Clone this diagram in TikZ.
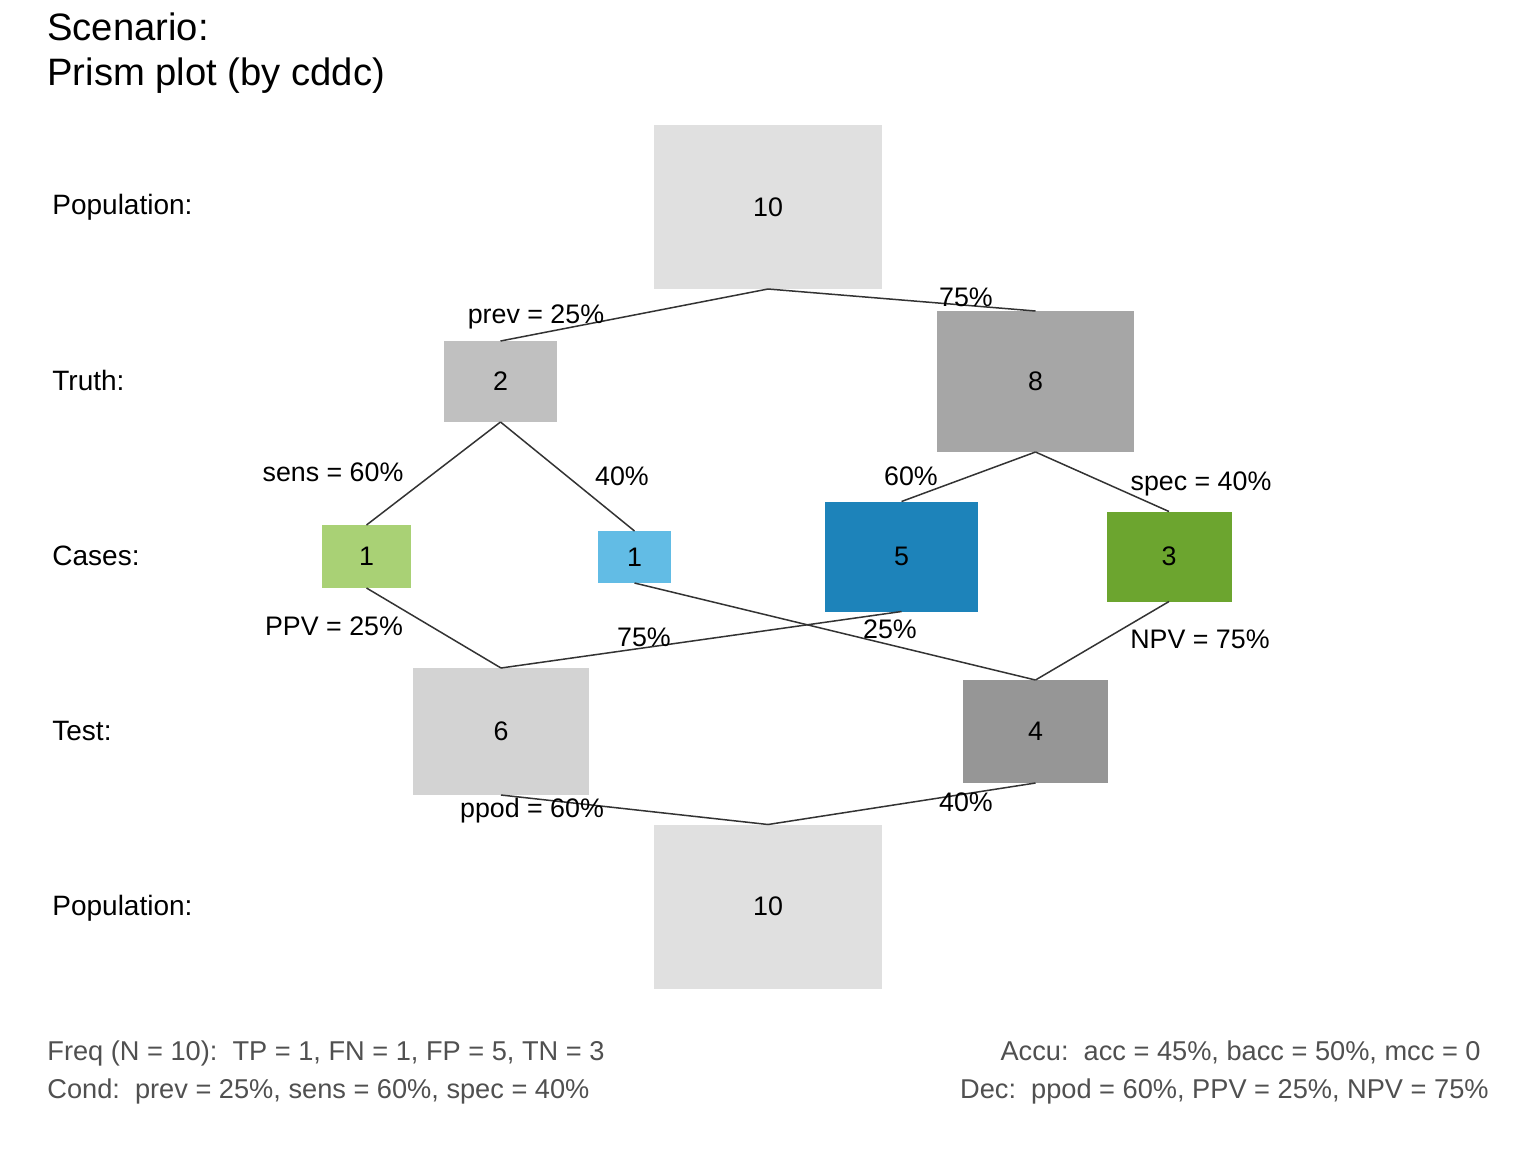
\documentclass[tikz,border=0pt]{standalone}
\usepackage{fontspec}
\setmainfont{Liberation Sans}
\definecolor{popc}{HTML}{E0E0E0}
\definecolor{ctrue}{HTML}{C0C0C0}
\definecolor{cfalse}{HTML}{A6A6A6}
\definecolor{hic}{HTML}{A9D175}
\definecolor{mic}{HTML}{62BCE5}
\definecolor{fac}{HTML}{1D83BA}
\definecolor{crc}{HTML}{6CA52F}
\definecolor{dpos}{HTML}{D3D3D3}
\definecolor{dneg}{HTML}{969696}
\definecolor{linec}{HTML}{333333}
\definecolor{infoc}{HTML}{505050}
\begin{document}
\begin{tikzpicture}[x=0.5pt,y=-0.5pt,
  fbox/.style 2 args={draw=none,inner sep=0pt,outer sep=0pt,minimum width=#1*0.5pt,minimum height=#2*0.5pt,font=\fontsize{13.4}{16}\selectfont},
  lbl/.style={anchor=base,inner sep=0pt,font=\fontsize{13.4}{16}\selectfont},
  rowlbl/.style={anchor=base west,inner sep=0pt,font=\fontsize{14}{16}\selectfont},
  info/.style={inner sep=0pt,text=infoc,font=\fontsize{13.6}{16}\selectfont},
  ttl/.style={anchor=base west,inner sep=0pt,font=\fontsize{19.1}{23}\selectfont},
  conn/.style={draw=linec,line width=0.75pt}]
\fill[white] (0,0) rectangle (1536,1152);
\useasboundingbox (0,0) rectangle (1536,1152);
% title
\node[ttl] (t1) at (47,40) {Scenario:};
\node[ttl] (t2) at (47,85) {Prism plot (by cddc)};
% row labels
\node[rowlbl] (r1) at (52,214) {Population:};
\node[rowlbl] (r2) at (52,390) {Truth:};
\node[rowlbl] (r3) at (52,565) {Cases:};
\node[rowlbl] (r4) at (52,740) {Test:};
\node[rowlbl] (r5) at (52,915) {Population:};
% boxes
\node[fbox={228}{164},fill=popc] (popt) at (768,207) {10};
\node[fbox={113}{81},fill=ctrue] (ct) at (500.5,381.5) {2};
\node[fbox={197}{141},fill=cfalse] (cf) at (1035.5,381.5) {8};
\node[fbox={89}{63},fill=hic] (hi) at (366.5,556.5) {1};
\node[fbox={73}{52},fill=mic] (mi) at (634.5,557) {1};
\node[fbox={153}{110},fill=fac] (fa) at (901.5,556.5) {5};
\node[fbox={125}{90},fill=crc] (cr) at (1169,556.5) {3};
\node[fbox={176}{127},fill=dpos] (dp) at (501,731.5) {6};
\node[fbox={145}{103},fill=dneg] (dn) at (1035.5,731.5) {4};
\node[fbox={228}{164},fill=popc] (popb) at (768,906.5) {10};
% connectors
\draw[conn] (popt.south) -- (ct.north);
\draw[conn] (popt.south) -- (cf.north);
\draw[conn] (ct.south) -- (hi.north);
\draw[conn] (ct.south) -- (mi.north);
\draw[conn] (cf.south) -- (fa.north);
\draw[conn] (cf.south) -- (cr.north);
\draw[conn] (hi.south) -- (dp.north);
\draw[conn] (fa.south) -- (dp.north);
\draw[conn] (mi.south) -- (dn.north);
\draw[conn] (cr.south) -- (dn.north);
\draw[conn] (dp.south) -- (popb.north);
\draw[conn] (dn.south) -- (popb.north);
% edge labels
\node[lbl] (l1) at (536,323) {prev = 25\%};
\node[lbl] (l2) at (966,306) {75\%};
\node[lbl] (l3) at (333,481) {sens = 60\%};
\node[lbl] (l4) at (622,485) {40\%};
\node[lbl] (l5) at (911,485) {60\%};
\node[lbl] (l6) at (1201,490) {spec = 40\%};
\node[lbl] (l7) at (334,635) {PPV = 25\%};
\node[lbl] (l8) at (644,646) {75\%};
\node[lbl] (l9) at (890,638) {25\%};
\node[lbl] (l10) at (1200,648) {NPV = 75\%};
\node[lbl] (l11) at (532,817) {ppod = 60\%};
\node[lbl] (l12) at (966,811) {40\%};
% info
\node[info,anchor=base west] (i1) at (47,1060) {Freq (N = 10):\ \ TP = 1, FN = 1, FP = 5, TN = 3};
\node[info,anchor=base west] (i2) at (47,1098) {Cond:\ \ prev = 25\%, sens = 60\%, spec = 40\%};
\node[info,anchor=base east] (i3) at (1481,1060) {Accu:\ \ acc = 45\%, bacc = 50\%, mcc = 0};
\node[info,anchor=base east] (i4) at (1489,1098) {Dec:\ \ ppod = 60\%, PPV = 25\%, NPV = 75\%};
\end{tikzpicture}
\end{document}
